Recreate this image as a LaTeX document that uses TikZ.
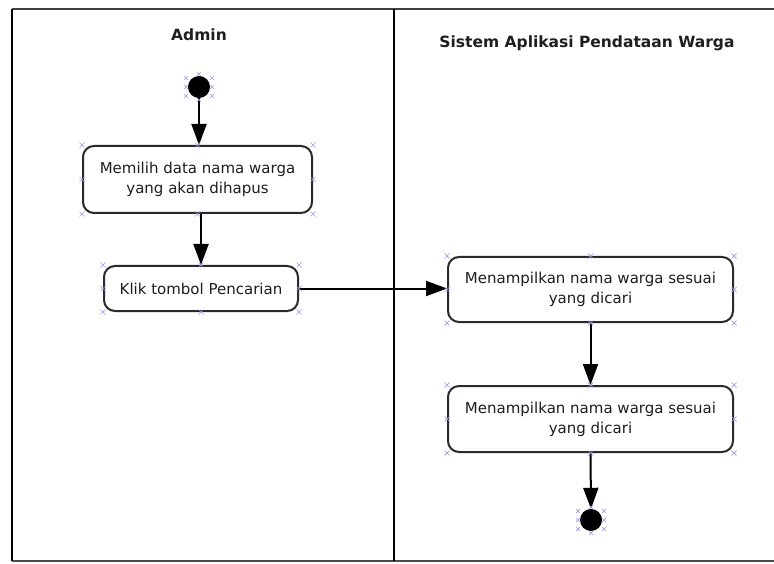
\documentclass[tikz,border=0pt]{standalone}
\usepackage{fontspec}
\setmainfont{DejaVu Sans}
\usetikzlibrary{arrows.meta}
\definecolor{ink}{HTML}{1E1E1E}
\definecolor{edge}{HTML}{2A2A2A}
\definecolor{handlecol}{HTML}{9A9AE6}
\newcommand\boxhandles[1]{%
  \foreach \a in {north west,north,north east,east,south east,south,south west,west}{%
    \draw[handle] ([shift={(-2.5,-2.5)}]#1.\a) -- ++(5,5)
                  ([shift={(-2.5,2.5)}]#1.\a) -- ++(5,-5);}}
\newcommand\dothandles[1]{%
  \foreach \dx/\dy in {-13/-9,-13/0,-13/9,13/-9,13/0,13/9,0/-13,0/13}{%
    \draw[handle] ([shift={(\dx-2,\dy-2)}]#1.center) -- ++(4,4)
                  ([shift={(\dx-2,\dy+2)}]#1.center) -- ++(4,-4);}}
\begin{document}
\begin{tikzpicture}[x=1pt,y=-1pt,
  action/.style={draw=edge, line width=2pt, rounded corners=11pt, fill=white,
    align=center, text=ink, inner sep=0pt,
    font=\fontsize{15}{20}\selectfont},
  flow/.style={draw=black, line width=2pt,
    -{Triangle[length=21pt,width=15pt]}},
  lanetitle/.style={text=ink, font=\bfseries\fontsize{15.5}{18}\selectfont},
  dot/.style={circle, fill=black, minimum size=22pt, inner sep=0pt},
  handle/.style={draw=handlecol, line width=0.7pt},
  frame/.style={line width=2.2pt}]

\useasboundingbox (0,0) rectangle (774,564);

% swimlane frame
\begin{scope}
  \clip (0,0) rectangle (774,564);
  \draw[frame, draw=black!75] (12,9) -- (790,9);
  \draw[frame, draw=black!70] (12,561) -- (790,561);
  \draw[frame, draw=black] (12,9) -- (12,561);
  \draw[frame, draw=black] (394,9) -- (394,561);
\end{scope}

% lane titles
\node[lanetitle] (admin) at (199,35) {Admin};
\node[lanetitle] (sistem) at (587,43) {Sistem Aplikasi Pendataan Warga};

% activity nodes
\node[dot] (start) at (199,87) {};
\node[action, minimum width=229pt, minimum height=67pt] (pilih) at (197.5,179.5)
  {Memilih data nama warga\\yang akan dihapus};
\node[action, minimum width=194pt, minimum height=45pt] (klik) at (201,288.5)
  {Klik tombol Pencarian};
\node[action, minimum width=285pt, minimum height=65pt] (tampil1) at (590.5,289.5)
  {Menampilkan nama warga sesuai\\yang dicari};
\node[action, minimum width=285pt, minimum height=66pt] (tampil2) at (590.5,419)
  {Menampilkan nama warga sesuai\\yang dicari};
\node[dot] (end) at (591,520) {};

% control flow
\draw[flow] (start) -- (start |- pilih.north);
\draw[flow] (pilih.south -| klik.north) -- (klik.north);
\draw[flow] (klik.east) -- (tampil1.west |- klik.east);
\draw[flow] (tampil1.south) -- (tampil2.north);
\draw[flow] (tampil2.south) -- (end.north);

% selection handles
\boxhandles{pilih}
\boxhandles{klik}
\boxhandles{tampil1}
\boxhandles{tampil2}
\dothandles{start}
\dothandles{end}
\end{tikzpicture}
\end{document}
